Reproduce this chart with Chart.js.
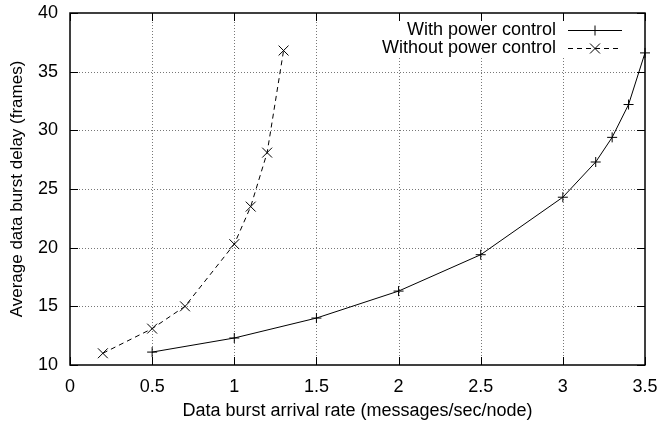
<!DOCTYPE html>
<html><head><meta charset="utf-8">
<script src="https://cdn.jsdelivr.net/npm/chart.js@4"></script>
<style>html,body{margin:0;padding:0;background:#fff}canvas{display:block}</style>
</head><body>
<canvas id="c" width="659" height="426"></canvas>
<script>
const withX = [0.5, 1, 1.5, 2, 2.5, 3, 3.2, 3.3, 3.4, 3.5];
const withY = [11.1, 12.3, 14.0, 16.3, 19.4, 24.3, 27.3, 29.4, 32.2, 36.6];
const withoutX = [0.2, 0.5, 0.7, 1.0, 1.1, 1.2, 1.3];
const withoutY = [11.0, 13.1, 15.0, 20.3, 23.5, 28.1, 36.8];
const seriesLabels = ['With power control', 'Without power control'];
const xTicks = [0, 0.5, 1, 1.5, 2, 2.5, 3, 3.5];
const xTickLabels = ['0', '0.5', '1', '1.5', '2', '2.5', '3', '3.5'];
const yTicks = [10, 15, 20, 25, 30, 35, 40];
const yTickLabels = ['10', '15', '20', '25', '30', '35', '40'];
const xTitle = 'Data burst arrival rate (messages/sec/node)';
const yTitle = 'Average data burst delay (frames)';

const FONT = "'Liberation Sans', Arial, Helvetica, sans-serif";
const FS = 18;

function drawMarker(ctx, style, x, y) {
  ctx.beginPath();
  if (style === 'cross') {
    ctx.moveTo(x - 5, y); ctx.lineTo(x + 5, y);
    ctx.moveTo(x, y - 5); ctx.lineTo(x, y + 5);
  } else {
    ctx.moveTo(x - 5, y - 5); ctx.lineTo(x + 5, y + 5);
    ctx.moveTo(x - 5, y + 5); ctx.lineTo(x + 5, y - 5);
  }
  ctx.stroke();
}

const framePlugin = {
  id: 'frame',
  beforeDatasetsDraw(chart) {
    const {ctx, chartArea: a, scales: {x, y}} = chart;
    ctx.save();
    // dotted grid
    ctx.strokeStyle = '#777';
    ctx.lineWidth = 1;
    ctx.setLineDash([1, 2]);
    ctx.beginPath();
    xTicks.forEach(v => {
      const px = Math.round(x.getPixelForValue(v)) + 0.5;
      if (px > a.left + 2 && px < a.right - 2) { ctx.moveTo(px, a.top); ctx.lineTo(px, a.bottom); }
    });
    yTicks.forEach(v => {
      const py = Math.round(y.getPixelForValue(v)) + 0.5;
      if (py > a.top + 2 && py < a.bottom - 2) { ctx.moveTo(a.left, py); ctx.lineTo(a.right, py); }
    });
    ctx.stroke();
    ctx.setLineDash([]);
    // opaque key area
    ctx.fillStyle = '#fff';
    ctx.fillRect(372, a.top + 8, 262, 37);
    // tick marks (inward, mirrored)
    ctx.strokeStyle = '#000';
    ctx.lineWidth = 1;
    ctx.beginPath();
    xTicks.forEach(v => {
      const px = Math.round(x.getPixelForValue(v)) + 0.5;
      ctx.moveTo(px, a.bottom); ctx.lineTo(px, a.bottom - 8);
      ctx.moveTo(px, a.top); ctx.lineTo(px, a.top + 8);
    });
    yTicks.forEach(v => {
      const py = Math.round(y.getPixelForValue(v)) + 0.5;
      ctx.moveTo(a.left, py); ctx.lineTo(a.left + 8, py);
      ctx.moveTo(a.right, py); ctx.lineTo(a.right - 8, py);
    });
    ctx.stroke();
    ctx.lineWidth = 1.5;
    ctx.strokeRect(a.left, a.top, a.right - a.left, a.bottom - a.top);
    ctx.restore();
  },
  afterDatasetsDraw(chart) {
    const {ctx} = chart;
    ctx.save();
    ctx.font = FS + 'px ' + FONT;
    ctx.fillStyle = '#000';
    ctx.textAlign = 'right';
    ctx.textBaseline = 'middle';
    chart.data.datasets.forEach((ds, i) => {
      const yy = 30 + 18 * i;
      ctx.fillText(ds.label, 556, yy);
      ctx.strokeStyle = '#000';
      ctx.lineWidth = 1;
      ctx.setLineDash(ds.borderDash || []);
      ctx.beginPath();
      ctx.moveTo(568, yy + 0.5); ctx.lineTo(622, yy + 0.5);
      ctx.stroke();
      ctx.setLineDash([]);
      drawMarker(ctx, ds.pointStyle === 'cross' ? 'cross' : 'x', 595, yy + 0.5);
    });
    ctx.restore();
  }
};

const ds1 = withX.map((v, i) => ({x: v, y: withY[i]}));
const ds2 = withoutX.map((v, i) => ({x: v, y: withoutY[i]}));

new Chart(document.getElementById('c'), {
  type: 'line',
  data: {
    datasets: [
      {label: seriesLabels[0], data: ds1, borderColor: '#000', borderWidth: 1, pointStyle: 'cross',
       pointRadius: 5, pointBorderColor: '#000', pointBorderWidth: 1, fill: false, tension: 0, clip: false},
      {label: seriesLabels[1], data: ds2, borderColor: '#000', borderWidth: 1, borderDash: [5, 4], pointStyle: 'crossRot',
       pointRadius: 7, pointBorderColor: '#000', pointBorderWidth: 1, fill: false, tension: 0, clip: false}
    ]
  },
  options: {
    responsive: false,
    animation: false,
    devicePixelRatio: 1,
    layout: {padding: {top: 13, right: 14, left: 0, bottom: 0}},
    plugins: {legend: {display: false}, tooltip: {enabled: false}},
    scales: {
      x: {
        type: 'linear', min: 0, max: 3.5,
        afterBuildTicks: s => { s.ticks = xTicks.map(v => ({value: v})); },
        afterFit: s => { s.height = 61; s.paddingLeft = 0; s.paddingRight = 0; s.paddingTop = 0; s.paddingBottom = 0; },
        grid: {display: false, drawTicks: false},
        border: {display: false},
        ticks: {padding: 11, color: '#000', maxRotation: 0, autoSkip: false,
          font: {family: FONT, size: FS},
          callback: v => { const i = xTicks.indexOf(v); return i >= 0 ? xTickLabels[i] : ''; }},
        title: {display: true, text: xTitle, color: '#000', font: {family: FONT, size: FS}, padding: {top: 0, bottom: 4}}
      },
      y: {
        type: 'linear', min: 10, max: 40,
        afterBuildTicks: s => { s.ticks = yTicks.map(v => ({value: v})); },
        afterFit: s => { s.width = 70; s.paddingLeft = 0; s.paddingRight = 0; s.paddingTop = 0; s.paddingBottom = 0; },
        grid: {display: false, drawTicks: false},
        border: {display: false},
        ticks: {padding: 12, color: '#000', autoSkip: false,
          font: {family: FONT, size: FS},
          callback: v => { const i = yTicks.indexOf(v); return i >= 0 ? yTickLabels[i] : ''; }},
        title: {display: true, text: yTitle, color: '#000', font: {family: FONT, size: 17}, padding: {top: 7, bottom: 0}}
      }
    }
  },
  plugins: [framePlugin]
});
</script>
</body></html>
